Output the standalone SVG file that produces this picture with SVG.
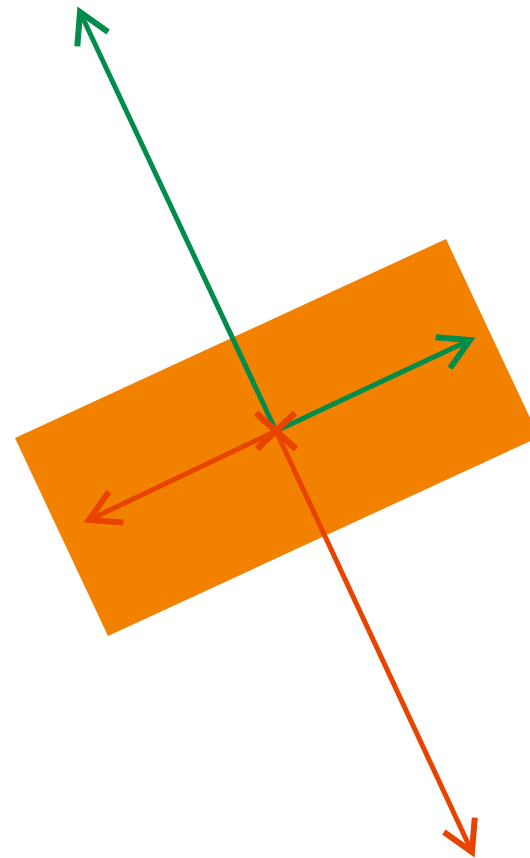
<svg xmlns="http://www.w3.org/2000/svg" width="530" height="858" viewBox="0 0 530 858">
<style>
.g{stroke:#008C4A;stroke-width:5;fill:none}
.r{stroke:#E84400;stroke-width:5;fill:none}
.x{stroke:#E84400;stroke-width:6.5;fill:none}
</style>
<defs>
<marker id="ag" markerUnits="userSpaceOnUse" orient="auto" markerWidth="60" markerHeight="60" refX="0" refY="0" viewBox="-40 -30 60 60" overflow="visible">
<path d="M-30,-17 L0,0 L-30,17" fill="none" stroke="#008C4A" stroke-width="6"/>
</marker>
<marker id="ar" markerUnits="userSpaceOnUse" orient="auto" markerWidth="60" markerHeight="60" refX="0" refY="0" viewBox="-40 -30 60 60" overflow="visible">
<path d="M-30,-17 L0,0 L-30,17" fill="none" stroke="#E84400" stroke-width="6"/>
</marker>
</defs>
<g id="block">
<polygon points="15,438 446,239 539,437 108,636" fill="#F28100"/>
</g>
<g id="connectors">
<line class="g" x1="276" y1="431" x2="80" y2="12" marker-end="url(#ag)"/>
<line class="g" x1="276" y1="431" x2="470" y2="340" marker-end="url(#ag)"/>
<line class="r" x1="276" y1="431" x2="472" y2="852" marker-end="url(#ar)"/>
<line class="r" x1="276" y1="431" x2="89" y2="520" marker-end="url(#ar)"/>
<line class="x" x1="256" y1="413" x2="296" y2="449"/>
<line class="x" x1="295" y1="413" x2="257" y2="449"/>
</g>
</svg>
